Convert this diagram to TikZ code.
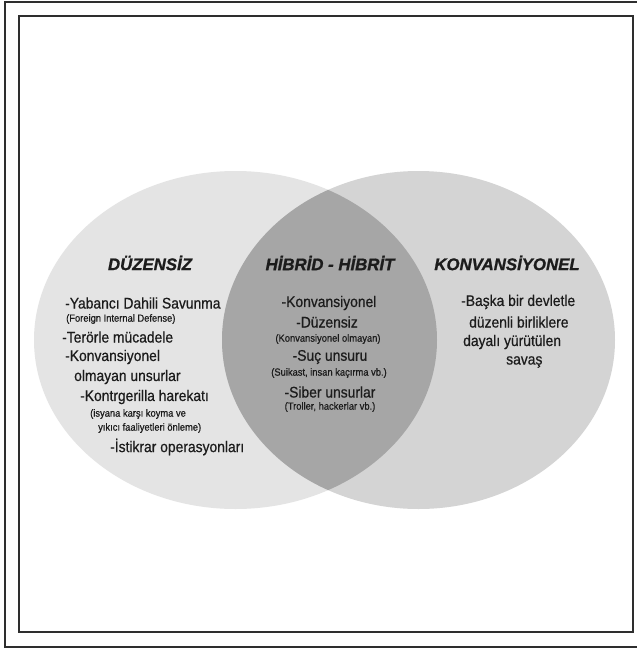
\documentclass[tikz,border=0pt]{standalone}
\usepackage{fontspec}
\setmainfont{Liberation Sans}
\newfontfamily\condfont{Liberation Sans}[FakeStretch=0.9,FakeBold=0.6]
\newfontfamily\headfont{Liberation Sans}[FakeBold=1.2]
\definecolor{leftfill}{HTML}{E4E4E4}
\definecolor{rightfill}{HTML}{D4D4D4}
\definecolor{lensfill}{HTML}{A6A6A6}
\definecolor{ink}{HTML}{1C1C1C}
\definecolor{framecol}{HTML}{2E2E2E}
\tikzset{
  head/.style={inner sep=0pt, text=ink, font=\headfont\fontsize{16.8}{19}\selectfont\bfseries\itshape},
  bigtxt/.style={inner sep=0pt, text=ink, font=\condfont\fontsize{15.4}{17}\selectfont},
  smalltxt/.style={inner sep=0pt, text=ink, font=\condfont\fontsize{10.4}{12}\selectfont},
}
\begin{document}
\begin{tikzpicture}[x=1pt,y=-1pt]
\useasboundingbox (0,0) rectangle (637,648);
\fill[white] (0,0) rectangle (637,648);
% frames
\draw[framecol, line width=2pt] (5,2) rectangle (645,647);
\draw[framecol, line width=2.6pt] (19,16) rectangle (633,632);
% Venn
\fill[leftfill] (235.5,340) ellipse [x radius=201.5pt, y radius=169pt];
\fill[rightfill] (418.5,340) ellipse [x radius=196.5pt, y radius=169pt];
\begin{scope}
\clip (235.5,340) ellipse [x radius=201.5pt, y radius=169pt];
\fill[lensfill] (418.5,340) ellipse [x radius=196.5pt, y radius=169pt];
\end{scope}
% headings
\node[head] (hL) at (150,263) {DÜZENSİZ};
\node[head] (hC) at (330,263) {HİBRİD - HİBRİT};
\node[head] (hR) at (507,263) {KONVANSİYONEL};
% left list
\node[bigtxt, anchor=west] (l1) at (65,303) {-Yabancı Dahili Savunma};
\node[smalltxt, anchor=west] (l1s) at (66,319) {(Foreign Internal Defense)};
\node[bigtxt, anchor=west] (l2) at (62,337) {-Terörle mücadele};
\node[bigtxt, anchor=west] (l3) at (65,357) {-Konvansiyonel};
\node[bigtxt, anchor=west] (l3b) at (74,377) {olmayan unsurlar};
\node[bigtxt, anchor=west] (l4) at (80,397) {-Kontrgerilla harekatı};
\node[smalltxt, anchor=west] (l4s) at (90,414) {(isyana karşı koyma ve};
\node[smalltxt, anchor=west] (l4t) at (98,428) {yıkıcı faaliyetleri önleme)};
\node[bigtxt, anchor=west] (l5) at (110,447) {-İstikrar operasyonları};
% center list
\node[bigtxt] (c1) at (329,303) {-Konvansiyonel};
\node[bigtxt] (c2) at (327,322) {-Düzensiz};
\node[smalltxt] (c2s) at (328,339) {(Konvansiyonel olmayan)};
\node[bigtxt] (c3) at (330,357) {-Suç unsuru};
\node[smalltxt] (c3s) at (329,373) {(Suikast, insan kaçırma vb.)};
\node[bigtxt] (c4) at (330,392) {-Siber unsurlar};
\node[smalltxt] (c4s) at (330,407) {(Troller, hackerlar vb.)};
% right list
\node[bigtxt, anchor=west] (r1) at (461,302) {-Başka bir devletle};
\node[bigtxt, anchor=west] (r2) at (469,322) {düzenli birliklere};
\node[bigtxt, anchor=west] (r3) at (463,342) {dayalı yürütülen};
\node[bigtxt, anchor=west] (r4) at (506,362) {savaş};
\end{tikzpicture}
\end{document}
